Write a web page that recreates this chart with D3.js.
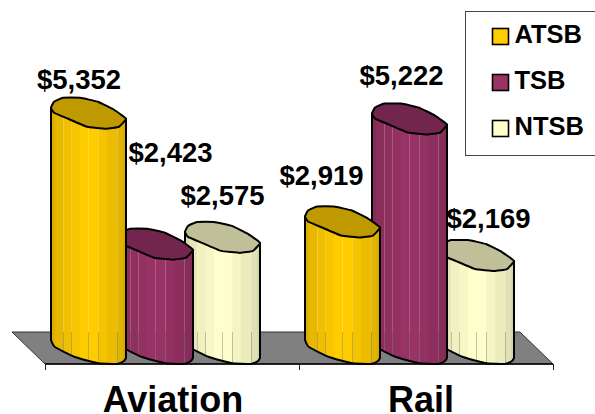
<!DOCTYPE html>
<html>
<head>
<meta charset="utf-8">
<style>
  html, body { margin: 0; padding: 0; background: #fff; }
  svg { display: block; }
  text { font-family: "Liberation Sans", Arial, sans-serif; font-weight: bold; fill: #000; }
</style>
</head>
<body>
<script src="https://cdn.jsdelivr.net/npm/d3@7"></script>
<script>
// Budget figures by mode and funding source
const categories = ["Aviation", "Rail"];
const seriesNames = ["ATSB", "TSB", "NTSB"];
const aviationValues = [5352, 2423, 2575];
const railValues = [2919, 5222, 2169];
const seriesColors = ["#FFCC00", "#993366", "#FFFFCC"];
const valuesByCategory = [aviationValues, railValues];

const width = 595, height = 414;
const cylWidth = 75, cylStep = 67, groupInset = 6;
const floorBackY = 332, floorFrontY = 364, baseY = 358, floorSkew = 33;

// Outline of a cylinder end, relative to (left edge, right-hand corner)
const capOutline = [[0,-11],[3,-17],[12,-21],[29,-21],[47,-17],[63,-9],[75,0],[68,8],[55,10],[36,8],[17,0],[3,-6]];
const footOutline = [[75,0],[73,3],[66,6],[46,5],[24,-1],[4,-11],[0,-18]];

// Vertical facets across the cylinder: [start, end, brightness]
const facets = [[0,4,.86],[4,12,.90],[12,21,.94],[21,29,.97],[29,47,1],[47,56,.96],[56,66,.92],[66,72,.88],[72,75,.84]];
const seams = [12, 20, 37, 47, 66];

// Label placement relative to the bar centre and top
const labelDx = [[-9.5, 15, 0], [-21, -8, 12]];
const labelDy = [[-30, -88, -38], [-43, -40, -33]];

const x = d3.scaleBand().domain(categories).range([45, 553]);
const inner = d3.scaleBand().domain(seriesNames).range([groupInset, groupInset + 3 * cylStep]);
const y = d3.scaleLinear().domain([0, 5000]).range([baseY, baseY - 223.5]);

const svg = d3.select("body").append("svg").attr("width", width).attr("height", height);
const defs = svg.append("defs");

// Floor of the plot
const floor = [[x.range()[0], floorFrontY], [x.range()[1], floorFrontY],
               [x.range()[1] - floorSkew, floorBackY], [x.range()[0] - floorSkew, floorBackY]];
svg.append("path").attr("d", d3.line()(floor) + "Z")
  .attr("fill", "#808080").attr("stroke", "#333").attr("stroke-width", 1);
svg.append("line").attr("x1", x.range()[0]).attr("x2", x.range()[1])
  .attr("y1", floorFrontY).attr("y2", floorFrontY).attr("stroke", "#000").attr("stroke-width", 1.6);

// Category ticks sit on the band boundaries
const tickXs = [...categories.map(c => x(c)), x.range()[1]];
svg.selectAll("line.tick").data(tickXs).join("line").attr("class", "tick")
  .attr("x1", d => d + 0.5).attr("x2", d => d + 0.5)
  .attr("y1", floorFrontY).attr("y2", floorFrontY + 6)
  .attr("stroke", "#222").attr("stroke-width", 1);

const capCurve = d3.line().curve(d3.curveCardinalClosed.tension(0.7));
const footCurve = d3.line().curve(d3.curveCardinal.tension(0.5));

categories.forEach((cat, ci) => {
  // Front-most cylinder is the first series, so paint in reverse
  for (let si = seriesNames.length - 1; si >= 0; si--) {
    const value = valuesByCategory[ci][si];
    const left = x(cat) + inner(seriesNames[si]);
    const top = y(value);
    const base = d3.color(seriesColors[si]);
    const shade = k => { const c = d3.rgb(base); c.r *= k; c.g *= k; c.b *= k; return c.formatRgb(); };

    const capPts = capOutline.map(([dx, dy]) => [left + dx, top + dy]);
    const footPts = footOutline.map(([dx, dy]) => [left + dx, baseY + dy]);
    // Body outline: down the right side, round the foot, up the left side
    const bodyD = `M${left},${top - 11}L${left + cylWidth},${top}L` +
      footCurve(footPts).slice(1) + "Z";

    const clipId = `clip-${ci}-${si}`;
    defs.append("clipPath").attr("id", clipId).append("path").attr("d", bodyD);

    const g = svg.append("g");
    const clipped = g.append("g").attr("clip-path", `url(#${clipId})`);
    clipped.selectAll("rect").data(facets).join("rect")
      .attr("x", d => left + d[0]).attr("width", d => d[1] - d[0] + 0.5)
      .attr("y", top - 25).attr("height", baseY + 12 - top + 25)
      .attr("fill", d => shade(d[2]));
    // Facet seams read light on the shaft and dull near the floor
    clipped.selectAll("line.up").data(seams).join("line").attr("class", "up")
      .attr("x1", d => left + d + 0.5).attr("x2", d => left + d + 0.5)
      .attr("y1", top - 25).attr("y2", floorBackY)
      .attr("stroke", "#fff").attr("stroke-opacity", 0.2);
    clipped.selectAll("line.down").data(seams).join("line").attr("class", "down")
      .attr("x1", d => left + d + 0.5).attr("x2", d => left + d + 0.5)
      .attr("y1", floorBackY).attr("y2", baseY + 12)
      .attr("stroke", "#808080").attr("stroke-opacity", 0.45);

    g.append("path").attr("d", bodyD).attr("fill", "none")
      .attr("stroke", "#000").attr("stroke-width", 2).attr("stroke-linejoin", "round");
    g.append("path").attr("d", capCurve(capPts))
      .attr("fill", shade(0.75)).attr("stroke", "#000").attr("stroke-width", 2);
  }
});

// Value labels
categories.forEach((cat, ci) => {
  seriesNames.forEach((name, si) => {
    const value = valuesByCategory[ci][si];
    svg.append("text")
      .attr("x", x(cat) + inner(name) + cylWidth / 2 + labelDx[ci][si])
      .attr("y", y(value) + labelDy[ci][si])
      .attr("text-anchor", "middle").attr("font-size", 27.5)
      .text(d3.format("$,")(value));
  });
});

// Category labels
svg.selectAll("text.cat").data(categories).join("text").attr("class", "cat")
  .attr("x", (d, i) => x(d) + x.bandwidth() / 2 + (i ? -5 : 1))
  .attr("y", 412).attr("text-anchor", "middle").attr("font-size", 36)
  .text(d => d);

// Legend, running off the right-hand side
svg.append("rect").attr("x", 465.5).attr("y", 11.5).attr("width", 140).attr("height", 144)
  .attr("fill", "#fff").attr("stroke", "#444").attr("stroke-width", 1);
const legendY = d3.scalePoint().domain(seriesNames).range([28, 120]);
const legend = svg.selectAll("g.key").data(seriesNames).join("g").attr("class", "key");
legend.append("rect").attr("x", 492.5).attr("y", d => legendY(d) + 0.5)
  .attr("width", 16).attr("height", 16)
  .attr("fill", (d, i) => seriesColors[i]).attr("stroke", "#000").attr("stroke-width", 1.6);
legend.append("text").attr("x", 514.5).attr("y", d => legendY(d) + 15)
  .attr("font-size", 25.5).text(d => d);
</script>
</body>
</html>
